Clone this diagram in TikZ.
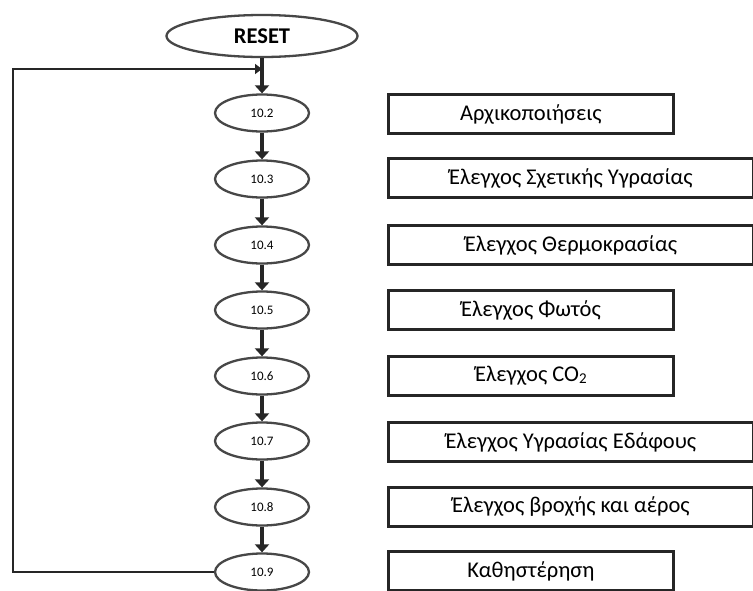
\documentclass[tikz,border=0pt]{standalone}
\usepackage{fontspec}
\setmainfont{Carlito}
\usetikzlibrary{shapes.geometric,arrows.meta}
\definecolor{ink}{HTML}{262626}
\tikzset{
  stepnode/.style={draw=ink!85, line width=2.3pt, ellipse, minimum width=94pt,
    minimum height=37pt, inner sep=0pt, font=\fontsize{13}{15}\selectfont},
  startnode/.style={draw=ink!85, line width=2.3pt, ellipse, minimum width=191pt,
    minimum height=42pt, inner sep=0pt, font=\fontsize{22.5}{24}\selectfont\bfseries},
  taskbox/.style={draw=ink, line width=2.8pt, rectangle, anchor=west,
    minimum height=39pt, inner sep=0pt, font=\fontsize{22.5}{24}\selectfont},
  flow/.style={draw=ink, line width=3.4pt, -{Triangle[width=14pt,length=8pt]}},
  loopline/.style={draw=ink, line width=2.6pt},
}
\begin{document}
\begin{tikzpicture}[x=1pt,y=-1pt]
\useasboundingbox (0,0) rectangle (753,590);
\fill[white] (0,0) rectangle (753,590);

% main chain of steps
\node[startnode] (reset) at (262,36) {RESET};
\node[stepnode] (s2) at (262,113) {10.2};
\node[stepnode] (s3) at (262,179) {10.3};
\node[stepnode] (s4) at (262,245) {10.4};
\node[stepnode] (s5) at (262,310) {10.5};
\node[stepnode] (s6) at (262,376) {10.6};
\node[stepnode] (s7) at (262,441) {10.7};
\node[stepnode] (s8) at (262,507) {10.8};
\node[stepnode] (s9) at (262,572) {10.9};

% descriptions of each step
\node[taskbox, minimum width=285pt] (b2) at (387,114) {Αρχικοποιήσεις};
\node[taskbox, minimum width=365pt] (b3) at (387,178) {Έλεγχος Σχετικής Υγρασίας};
\node[taskbox, minimum width=365pt] (b4) at (387,245) {Έλεγχος Θερμοκρασίας};
\node[taskbox, minimum width=285pt] (b5) at (387,310) {Έλεγχος Φωτός};
\node[taskbox, minimum width=285pt] (b6) at (387,376) {Έλεγχος CO\raisebox{-0.15ex}{\fontsize{15}{16}\selectfont 2}};
\node[taskbox, minimum width=365pt] (b7) at (387,442) {Έλεγχος Υγρασίας Εδάφους};
\node[taskbox, minimum width=365pt] (b8) at (387,507) {Έλεγχος βροχής και αέρος};
\node[taskbox, minimum width=285pt] (b9) at (387,571) {Καθηστέρηση};

% arrows between steps
\draw[flow] (reset.south) -- (s2.north);
\draw[flow] (s2.south) -- (s3.north);
\draw[flow] (s3.south) -- (s4.north);
\draw[flow] (s4.south) -- (s5.north);
\draw[flow] (s5.south) -- (s6.north);
\draw[flow] (s6.south) -- (s7.north);
\draw[flow] (s7.south) -- (s8.north);
\draw[flow] (s8.south) -- (s9.north);

% return path from the last step back to the top
\coordinate (join) at (262,69);
\draw[loopline, -{Triangle[width=10pt,length=7pt]}] (s9.west) -| (13,69) -- (join);
\end{tikzpicture}
\end{document}
